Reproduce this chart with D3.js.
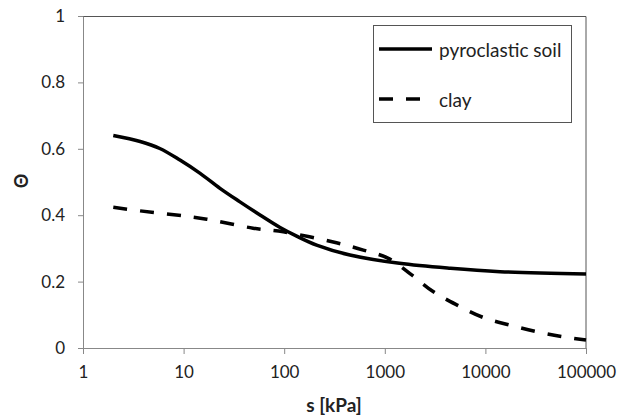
<!DOCTYPE html>
<html>
<head>
<meta charset="utf-8">
<script src="https://cdn.jsdelivr.net/npm/d3@7"></script>
<style>
  html, body { margin: 0; padding: 0; background: #fff; overflow: hidden; }
  svg { display: block; }
  text { font-family: Lato, "Open Sans", sans-serif; fill: #222; }
</style>
</head>
<body>
<div id="chart"></div>
<script>
// suction values [kPa] and water content
var soilS     = [2, 3.7, 5.8, 9.2, 14.6, 23, 36, 58, 91, 133, 210, 450, 1400, 4500, 14000, 100000];
var soilTheta = [0.64, 0.622, 0.601, 0.566, 0.526, 0.481, 0.441, 0.40, 0.363, 0.337, 0.31, 0.28, 0.255, 0.24, 0.23, 0.223];

var clayS     = [2, 3.7, 10, 17, 49, 98, 331, 612, 1084, 1850, 3020, 5180, 9500, 17500, 32400, 59000, 100000];
var clayTheta = [0.424, 0.413, 0.398, 0.388, 0.361, 0.35, 0.317, 0.295, 0.27, 0.22, 0.17, 0.13, 0.092, 0.069, 0.049, 0.034, 0.024];

var xTicks = [1, 10, 100, 1000, 10000, 100000];
var yTicks = [0, 0.2, 0.4, 0.6, 0.8, 1];
var seriesNames = ["pyroclastic soil", "clay"];

var width = 630, height = 419;
var margin = { left: 83, top: 16, right: 44, bottom: 71 };
var innerWidth = width - margin.left - margin.right;
var innerHeight = height - margin.top - margin.bottom;

var svg = d3.select('#chart').append('svg')
    .attr('width', width)
    .attr('height', height);

var g = svg.append('g')
    .attr('transform', 'translate(' + margin.left + ',' + margin.top + ')');

var xScale = d3.scaleLog().domain([1, 100000]).range([0, innerWidth]);
var yScale = d3.scaleLinear().domain([0, 1]).range([innerHeight, 0]);

// plot frame (top + right)
g.append('path')
    .attr('d', 'M0,0.5H' + innerWidth + 'V' + innerHeight)
    .attr('fill', 'none')
    .attr('stroke', '#555')
    .attr('stroke-width', 1);

var xAxis = d3.axisBottom(xScale)
    .tickValues(xTicks)
    .tickFormat(d3.format('d'))
    .tickSizeInner(6).tickSizeOuter(0).tickPadding(12);
var yAxis = d3.axisLeft(yScale)
    .tickValues(yTicks)
    .tickFormat(function (d) { return d === 0 || d === 1 ? d : d.toFixed(1); })
    .tickSizeInner(5).tickSizeOuter(0).tickPadding(13);

var xAxisG = g.append('g')
    .attr('transform', 'translate(0,' + innerHeight + ')')
    .call(xAxis);
var yAxisG = g.append('g').call(yAxis);

[xAxisG, yAxisG].forEach(function (a) {
    a.select('.domain').attr('stroke', '#888');
    a.selectAll('.tick line').attr('stroke', '#888');
    a.selectAll('.tick text')
        .attr('font-family', 'Lato, "Open Sans", sans-serif')
        .attr('font-size', 17)
        .attr('fill', '#222');
});

// axis titles
svg.append('text')
    .attr('x', 334)
    .attr('y', 412)
    .attr('text-anchor', 'middle')
    .attr('font-size', 19)
    .attr('font-weight', 'bold')
    .text('s [kPa]');
svg.append('text')
    .attr('transform', 'translate(28,181) rotate(-90)')
    .attr('text-anchor', 'middle')
    .attr('font-size', 18)
    .attr('font-weight', 'bold')
    .text('Θ');

var line = d3.line()
    .x(function (d) { return xScale(d[0]); })
    .y(function (d) { return yScale(d[1]); })
    .curve(d3.curveCatmullRom.alpha(0.5));

var soil = d3.zip(soilS, soilTheta);
var clay = d3.zip(clayS, clayTheta);

g.append('path')
    .attr('d', line(clay))
    .attr('fill', 'none')
    .attr('stroke', '#000')
    .attr('stroke-width', 3.5)
    .attr('stroke-dasharray', '14,13');

g.append('path')
    .attr('d', line(soil))
    .attr('fill', 'none')
    .attr('stroke', '#000')
    .attr('stroke-width', 3.5);

// legend
var legend = svg.append('g').attr('transform', 'translate(373,25)');
legend.append('rect')
    .attr('x', 0.5).attr('y', 0.5)
    .attr('width', 198).attr('height', 97)
    .attr('fill', '#fff')
    .attr('stroke', '#555');

seriesNames.forEach(function (name, i) {
    var yy = 24 + i * 50;
    legend.append('line')
        .attr('x1', 6).attr('x2', 59)
        .attr('y1', yy).attr('y2', yy)
        .attr('stroke', '#000')
        .attr('stroke-width', 3.5)
        .attr('stroke-dasharray', i === 1 ? '14,13' : null);
    legend.append('text')
        .attr('x', 66)
        .attr('y', yy + 8)
        .attr('font-size', 19)
        .text(name);
});
</script>
</body>
</html>
